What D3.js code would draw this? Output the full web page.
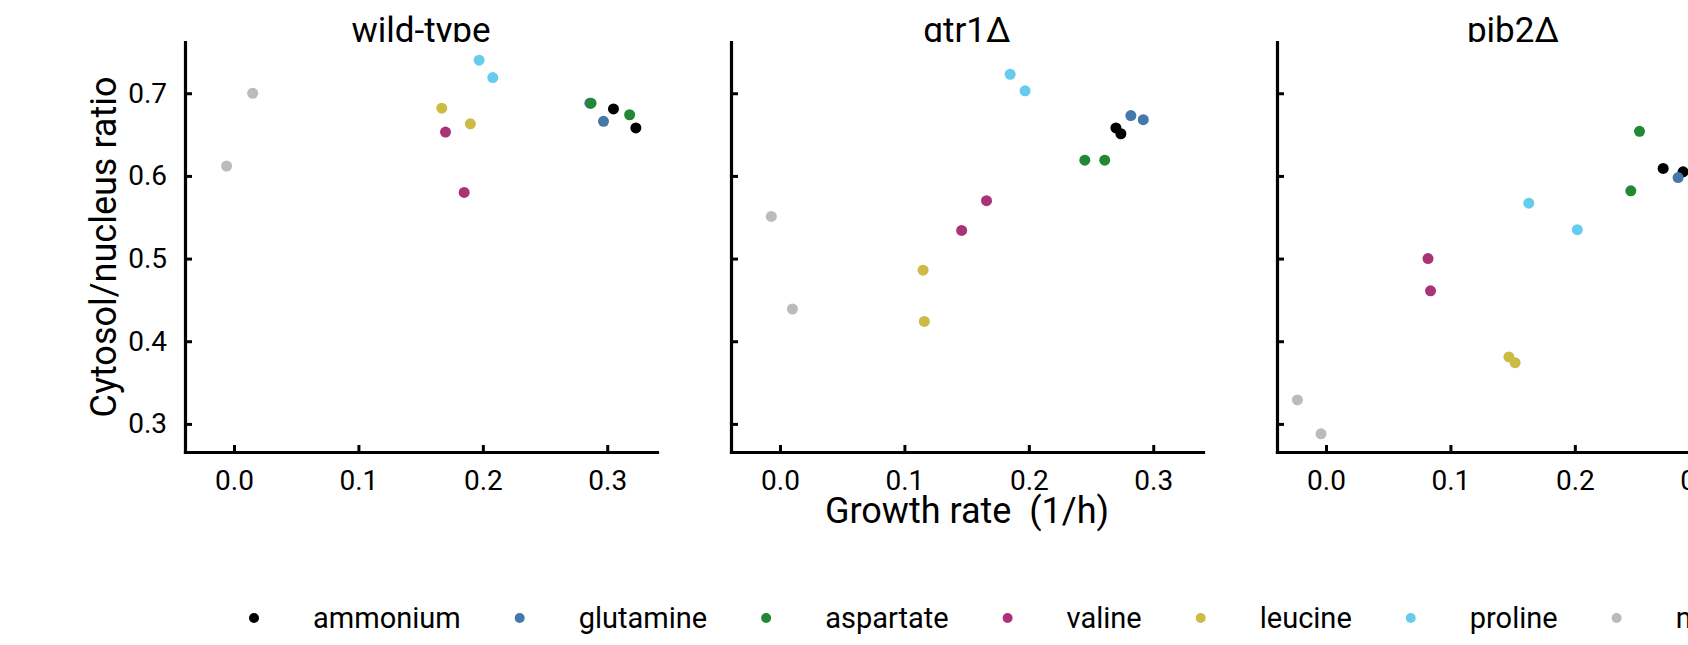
<html>
<head>
<meta charset="utf-8">
<title>Cytosol/nucleus ratio vs growth rate</title>
<style>
  body { margin: 0; background: #fff; }
  text { font-family: Roboto, 'Noto Sans', sans-serif; fill: #000; }
</style>
<script src="https://cdnjs.cloudflare.com/ajax/libs/d3/7.8.5/d3.min.js"></script>
</head>
<body>
<div id="plot"></div>
<script>
  // nitrogen sources and their colours
  var sources = ["ammonium", "glutamine", "aspartate", "valine", "leucine", "proline", "methionine"];
  var colors = ["#000000", "#4477AA", "#228833", "#AA3377", "#CCBB44", "#66CCEE", "#BBBBBB"];
  var strains = ["wild-type", "gtr1\u0394", "pib2\u0394"];
  var xTicks = [0.0, 0.1, 0.2, 0.3];
  var yTicks = [0.3, 0.4, 0.5, 0.6, 0.7];

  // wild-type
  var wtSource = [0, 0, 1, 1, 2, 2, 3, 3, 4, 4, 5, 5, 6, 6];
  var wtGrowth = [0.305, 0.323, 0.286, 0.297, 0.287, 0.318, 0.170, 0.185, 0.167, 0.190, 0.197, 0.208, 0.015, -0.006];
  var wtRatio  = [0.681, 0.658, 0.688, 0.666, 0.688, 0.674, 0.653, 0.580, 0.682, 0.663, 0.740, 0.719, 0.700, 0.612];

  // gtr1 deletion
  var gtrSource = [0, 0, 1, 1, 2, 2, 3, 3, 4, 4, 5, 5, 6, 6];
  var gtrGrowth = [0.270, 0.274, 0.282, 0.292, 0.245, 0.261, 0.166, 0.146, 0.115, 0.116, 0.185, 0.197, -0.007, 0.010];
  var gtrRatio  = [0.658, 0.651, 0.673, 0.668, 0.619, 0.619, 0.570, 0.534, 0.486, 0.424, 0.723, 0.703, 0.551, 0.439];

  // pib2 deletion
  var pibSource = [0, 0, 1, 2, 2, 3, 3, 4, 4, 5, 5, 6, 6];
  var pibGrowth = [0.271, 0.287, 0.283, 0.252, 0.245, 0.082, 0.084, 0.147, 0.152, 0.163, 0.202, -0.023, -0.004];
  var pibRatio  = [0.609, 0.605, 0.598, 0.654, 0.582, 0.500, 0.461, 0.381, 0.374, 0.567, 0.535, 0.329, 0.288];

  var panelData = [
    [wtSource, wtGrowth, wtRatio],
    [gtrSource, gtrGrowth, gtrRatio],
    [pibSource, pibGrowth, pibRatio]
  ];

  var W = 1688, H = 645;
  var panelLeft = 185, panelStep = 546, panelW = 472;
  var plotTop = 42, plotBottom = 452;

  var svg = d3.select("#plot").append("svg")
      .attr("width", W)
      .attr("height", H);

  svg.append("clipPath").attr("id", "stripclip")
    .append("rect").attr("x", 0).attr("y", 0).attr("width", W).attr("height", plotTop);

  var y = d3.scaleLinear().domain([0.266, 0.762]).range([plotBottom, plotTop]);

  panelData.forEach(function(pd, p) {
    var x0 = panelLeft + p * panelStep;
    var x = d3.scaleLinear().domain([-0.0394, 0.340]).range([x0, x0 + panelW]);
    var g = svg.append("g");

    // strip title, cut at the top of the panel
    g.append("text")
      .attr("clip-path", "url(#stripclip)")
      .attr("x", x0 + panelW / 2)
      .attr("y", plotTop)
      .attr("text-anchor", "middle")
      .style("font-size", "35px")
      .text(strains[p]);

    // points
    var pts = pd[0].map(function(s, i) { return {s: s, gx: pd[1][i], r: pd[2][i]}; });
    g.selectAll("circle").data(pts).enter().append("circle")
      .attr("cx", function(d) { return x(d.gx); })
      .attr("cy", function(d) { return y(d.r); })
      .attr("r", 5.5)
      .attr("fill", function(d) { return colors[d.s]; });

    // x axis, ticks pointing in
    var xa = g.append("g").attr("transform", "translate(0," + plotBottom + ")")
      .call(d3.axisBottom(x).tickValues(xTicks).tickFormat(d3.format(".1f"))
        .tickSizeInner(-7).tickSizeOuter(0).tickPadding(18));
    xa.select(".domain").attr("stroke-width", 3.2);
    xa.selectAll(".tick line").attr("stroke-width", 3);
    xa.selectAll(".tick text").style("font-size", "28px");

    // y axis
    var ya = g.append("g").attr("transform", "translate(" + x0 + ",0)")
      .call(d3.axisLeft(y).tickValues(yTicks).tickFormat(d3.format(".1f"))
        .tickSizeInner(-7).tickSizeOuter(0).tickPadding(18));
    ya.select(".domain").attr("stroke-width", 3.2);
    ya.selectAll(".tick line").attr("stroke-width", 3);
    ya.selectAll(".tick text").style("font-size", "28px");
    if (p > 0) ya.selectAll(".tick text").remove();
    g.selectAll(".tick text").attr("font-family", null);
    g.selectAll(".domain").attr("stroke-linecap", "square");
  });

  svg.append("text")
    .attr("transform", "translate(116," + (plotTop + plotBottom) / 2 + ") rotate(-90)")
    .attr("text-anchor", "middle")
    .style("font-size", "36px")
    .text("Cytosol/nucleus ratio");

  svg.append("text")
    .attr("x", panelLeft + panelStep + panelW / 2)
    .attr("y", 523)
    .attr("text-anchor", "middle")
    .style("font-size", "36px")
    .style("white-space", "pre")
    .text("Growth rate  (1/h)");

  // legend
  var leg = svg.append("g");
  var lx = 313, ly = 618;
  sources.forEach(function(s, i) {
    leg.append("circle").attr("cx", lx - 59).attr("cy", ly).attr("r", 5).attr("fill", colors[i]);
    var t = leg.append("text").attr("x", lx).attr("y", ly + 10)
      .style("font-size", "29px").text(s);
    lx += t.node().getComputedTextLength() + 118;
  });
</script>
</body>
</html>
